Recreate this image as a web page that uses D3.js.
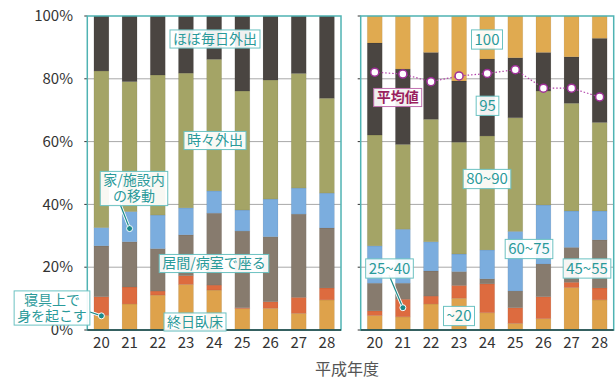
<!DOCTYPE html>
<html>
<head>
<meta charset="utf-8">
<script src="https://cdn.jsdelivr.net/npm/d3@7"></script>
<style>
  body { margin: 0; background: #fff; }
  svg text { font-family: "Noto Sans CJK JP", "Noto Sans", sans-serif; }
</style>
</head>
<body>
<svg id="chart" width="615" height="381"></svg>
<script>
// years (平成)
const years = ['20', '21', '22', '23', '24', '25', '26', '27', '28'];

// left panel: activity level, bottom to top
const leftKeys = ['終日臥床', '寝具上で身を起こす', '居間/病室で座る', '家/施設内の移動', '時々外出', 'ほぼ毎日外出'];
const leftValues = [
  [4.6, 6.0, 16.2, 5.8, 49.9, 17.5],
  [8.3, 5.4, 14.4, 9.6, 41.4, 20.9],
  [11.1, 1.3, 13.5, 10.7, 44.6, 18.8],
  [14.5, 2.8, 13.0, 8.6, 42.9, 18.2],
  [12.7, 1.6, 22.9, 7.1, 41.9, 13.8],
  [6.8, 0.3, 24.4, 6.7, 37.9, 23.9],
  [6.9, 2.1, 20.7, 12.0, 37.9, 20.4],
  [5.3, 5.1, 26.5, 8.3, 36.5, 18.3],
  [9.6, 3.8, 19.1, 11.1, 30.2, 26.2]
];

// right panel: score bands, bottom to top
const rightKeys = ['~20', '25~40', '45~55', '60~75', '80~90', '95', '100'];
const rightValues = [
  [4.6, 1.5, 8.8, 11.9, 35.3, 29.3, 8.6],
  [4.2, 5.6, 5.1, 17.2, 27.0, 24.0, 16.9],
  [8.3, 2.5, 8.0, 9.3, 39.0, 21.3, 11.6],
  [10.1, 4.1, 4.4, 5.6, 35.6, 19.5, 20.7],
  [5.5, 9.2, 1.6, 9.2, 36.3, 24.5, 13.7],
  [2.1, 5.0, 5.3, 19.0, 36.2, 19.1, 13.3],
  [3.6, 7.0, 10.4, 18.8, 36.3, 12.3, 11.6],
  [13.5, 1.7, 11.1, 11.6, 34.3, 14.8, 13.0],
  [9.6, 3.8, 15.3, 9.2, 28.2, 26.8, 7.1]
];

// 平均値
const average = [82.1, 81.5, 79.1, 80.9, 81.7, 82.9, 77.0, 77.0, 74.2];

const yTicks = [0, 20, 40, 60, 80, 100];

const leftColors = ['#dea24b', '#dd6b3f', '#877b6e', '#7badde', '#a4a466', '#4a4541'];
const rightColors = ['#dea24b', '#dd6b3f', '#877b6e', '#7badde', '#a4a466', '#4a4541', '#e0aa50'];

const svg = d3.select('#chart');
const teal = '#4fb3b3';
const labelTeal = '#2a9a9a';

const y = d3.scaleLinear().domain([0, 100]).range([330, 16]);

const xLeft = d3.scaleBand().domain(years).range([87.3, 341]).paddingInner(0.47).paddingOuter(0.235);
const xRight = d3.scaleBand().domain(years).range([360.7, 613.7]).paddingInner(0.47).paddingOuter(0.235);

// y tick labels
svg.append('g')
  .selectAll('text')
  .data(yTicks)
  .enter()
  .append('text')
  .attr('x', 73)
  .attr('y', d => y(d))
  .attr('dy', '0.35em')
  .attr('text-anchor', 'end')
  .attr('font-size', 15)
  .attr('fill', '#333')
  .text(d => d + '%');

function drawPanel(x, keys, values, colors) {
  const [x0, x1] = x.range();
  const g = svg.append('g');

  // gridlines
  g.selectAll('.grid')
    .data(yTicks.slice(1, -1))
    .enter()
    .append('line')
    .attr('x1', x0).attr('x2', x1)
    .attr('y1', d => y(d)).attr('y2', d => y(d))
    .attr('stroke', '#a8a8a8')
    .attr('stroke-width', 1);

  // tick marks
  g.selectAll('.tick')
    .data(yTicks)
    .enter()
    .append('line')
    .attr('x1', x0 - 3).attr('x2', x0)
    .attr('y1', d => y(d)).attr('y2', d => y(d))
    .attr('stroke', '#333');

  const rows = values.map((v, i) => {
    const r = { year: years[i] };
    keys.forEach((k, j) => { r[k] = v[j]; });
    return r;
  });
  const series = d3.stack().keys(keys)(rows);

  g.selectAll('.layer')
    .data(series)
    .enter()
    .append('g')
    .attr('fill', (d, i) => colors[i])
    .selectAll('rect')
    .data(d => d)
    .enter()
    .append('rect')
    .attr('x', d => x(d.data.year))
    .attr('width', x.bandwidth())
    .attr('y', d => y(d[1]))
    .attr('height', d => y(d[0]) - y(d[1]))
    .attr('stroke', 'rgba(0,0,0,0.08)')
    .attr('stroke-width', 0.8);

  // frame
  g.append('rect')
    .attr('x', x0).attr('y', y(100))
    .attr('width', x1 - x0).attr('height', y(0) - y(100))
    .attr('fill', 'none')
    .attr('stroke', teal)
    .attr('stroke-width', 1.5);
  g.append('line')
    .attr('x1', x0).attr('x2', x1)
    .attr('y1', y(0)).attr('y2', y(0))
    .attr('stroke', '#1f3f3f')
    .attr('stroke-width', 1.5);

  // x labels
  g.selectAll('.xl')
    .data(years)
    .enter()
    .append('text')
    .attr('x', d => x(d) + x.bandwidth() / 2)
    .attr('y', 343)
    .attr('dy', '0.35em')
    .attr('text-anchor', 'middle')
    .attr('font-size', 15)
    .attr('fill', '#333')
    .text(d => d);
}

drawPanel(xLeft, leftKeys, leftValues, leftColors);
drawPanel(xRight, rightKeys, rightValues, rightColors);

// average line
const avgLine = d3.line()
  .x((d, i) => xRight(years[i]) + xRight.bandwidth() / 2)
  .y(d => y(d));
svg.append('path')
  .datum(average)
  .attr('d', avgLine)
  .attr('fill', 'none')
  .attr('stroke', '#b040a8')
  .attr('stroke-width', 1.2)
  .attr('stroke-dasharray', '1.5,2');
svg.selectAll('.avg')
  .data(average)
  .enter()
  .append('circle')
  .attr('cx', (d, i) => xRight(years[i]) + xRight.bandwidth() / 2)
  .attr('cy', d => y(d))
  .attr('r', 4)
  .attr('fill', '#fff')
  .attr('stroke', '#a0309a')
  .attr('stroke-width', 1.5);

// leader lines to bars
function leader(x, year, val, fromX, fromY) {
  const cx = x(year) + x.bandwidth() / 2;
  const cy = y(val);
  svg.append('line')
    .attr('x1', fromX).attr('y1', fromY).attr('x2', cx).attr('y2', cy)
    .attr('stroke', '#fff').attr('stroke-width', 3);
  svg.append('line')
    .attr('x1', fromX).attr('y1', fromY).attr('x2', cx).attr('y2', cy)
    .attr('stroke', '#1a8a8a').attr('stroke-width', 1.2);
  svg.append('circle').attr('cx', cx).attr('cy', cy).attr('r', 3)
    .attr('fill', '#1a8a8a').attr('stroke', '#fff').attr('stroke-width', 1);
}
leader(xLeft, '20', 4.5, 90, 312);
leader(xLeft, '21', 32.3, 120, 204);
leader(xRight, '21', 7.1, 389, 275);

// label boxes
function label(lines, cx, cy, opts = {}) {
  const fs = opts.size || 14;
  const lh = fs * 1.15;
  const g = svg.append('g');
  const box = g.append('rect');
  const t = g.append('text')
    .attr('text-anchor', 'middle')
    .attr('font-size', fs)
    .attr('font-weight', opts.bold ? 'bold' : 'normal')
    .attr('fill', opts.color || labelTeal);
  lines.forEach((l, i) => {
    t.append('tspan')
      .attr('x', cx)
      .attr('y', cy + (i - (lines.length - 1) / 2) * lh)
      .attr('dy', '0.35em')
      .text(l);
  });
  const bb = t.node().getBBox();
  const w = bb.width + 6;
  const h = lines.length * lh + 2;
  box.attr('x', cx - w / 2).attr('y', cy - h / 2)
    .attr('width', w).attr('height', h)
    .attr('fill', 'rgba(255,255,255,0.92)')
    .attr('stroke', opts.border || '#6cc2c2')
    .attr('stroke-width', 1);
}

label(['ほぼ毎日外出'], 215, 39);
label(['時々外出'], 215, 140.5);
label(['家/施設内', 'の移動'], 134, 188.5);
label(['居間/病室で座る'], 214, 263.5);
label(['寝具上で', '身を起こす'], 52, 308);
label(['終日臥床'], 195, 322);

label(['100'], 487, 39.5, { size: 15 });
label(['95'], 487.5, 105.8, { size: 15 });
label(['80~90'], 487, 179, { size: 15 });
label(['60~75'], 529, 249, { size: 15 });
label(['45~55'], 587, 268.5, { size: 15 });
label(['25~40'], 389.5, 268.5, { size: 15 });
label(['~20'], 459, 316, { size: 15 });
label(['平均値'], 397.7, 97.5, { bold: true, color: '#9a1f5e', border: '#c070b0' });

// x axis title
svg.append('text')
  .attr('x', 347)
  .attr('y', 369)
  .attr('dy', '0.35em')
  .attr('text-anchor', 'middle')
  .attr('font-size', 16)
  .attr('fill', '#555')
  .text('平成年度');
</script>
</body>
</html>
